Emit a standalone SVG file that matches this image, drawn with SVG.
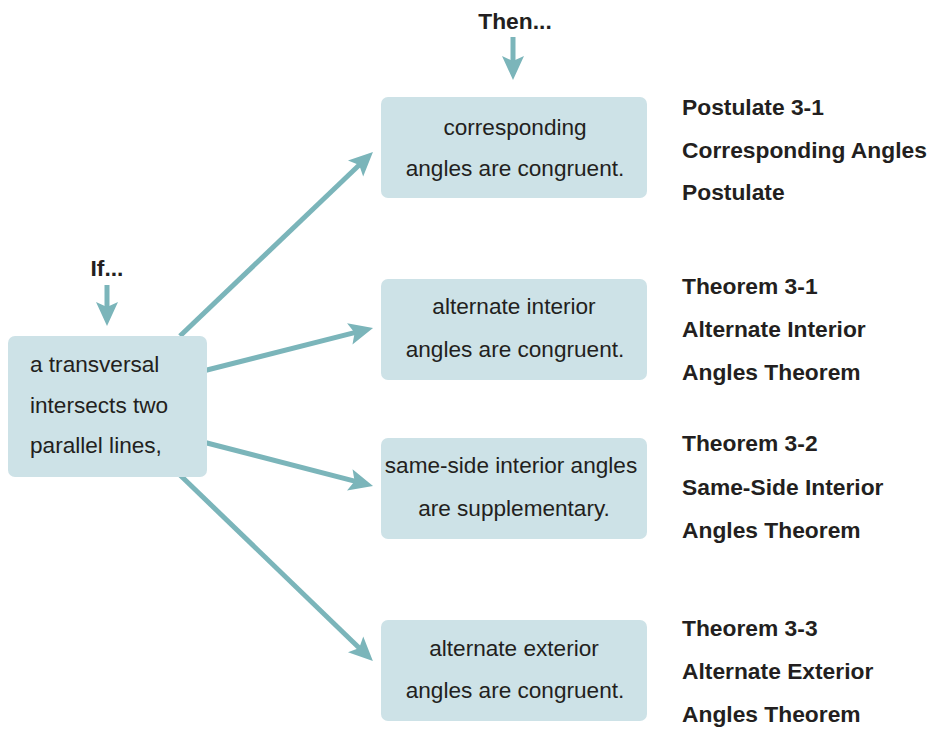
<svg xmlns="http://www.w3.org/2000/svg" width="930" height="729" viewBox="0 0 930 729">
<style>
.box{fill:#cde2e7;}
.t{font-family:"Liberation Sans",Arial,sans-serif;font-size:22.6px;fill:#231f20;}
.c{text-anchor:middle;}
.b{font-family:"Liberation Sans",Arial,sans-serif;font-size:22.8px;font-weight:bold;fill:#231f20;}
.conn{stroke:#7bb5ba;stroke-width:5;fill:none;marker-end:url(#ah);}
</style>
<defs>
<marker id="ah" markerUnits="userSpaceOnUse" viewBox="-10 -12 26 24" markerWidth="26" markerHeight="24" refX="0" refY="0" orient="auto">
<path d="M15,0 L-9,-11 L-4,0 L-9,11 Z" fill="#7bb5ba"/>
</marker>
</defs>
<rect width="930" height="729" fill="#ffffff"/>
<g id="connectors">
<line class="conn" x1="107" y1="285" x2="107" y2="311"/>
<line class="conn" x1="513" y1="37" x2="513" y2="65"/>
<line class="conn" x1="180" y1="336" x2="362.1" y2="162.3"/>
<line class="conn" x1="205" y1="370.5" x2="358.5" y2="331.7"/>
<line class="conn" x1="205" y1="442.5" x2="358.5" y2="482.2"/>
<line class="conn" x1="180" y1="475" x2="362.1" y2="650.7"/>
</g>
<g id="label-if"><text class="b" x="107" y="276" text-anchor="middle">If...</text></g>
<g id="label-then"><text class="b" x="515" y="29" text-anchor="middle">Then...</text></g>
<g id="node-if">
<rect class="box" x="8" y="336" width="199" height="141" rx="7"/>
<text class="t" x="30" y="372">a transversal</text>
<text class="t" x="30" y="413">intersects two</text>
<text class="t" x="30" y="453">parallel lines,</text>
</g>
<g id="node-corresponding">
<rect class="box" x="381" y="97" width="266" height="101" rx="7"/>
<text class="t c" x="515" y="135">corresponding</text>
<text class="t c" x="515" y="176">angles are congruent.</text>
</g>
<g id="node-alt-interior">
<rect class="box" x="381" y="279" width="266" height="101" rx="7"/>
<text class="t c" x="514" y="314">alternate interior</text>
<text class="t c" x="515" y="357">angles are congruent.</text>
</g>
<g id="node-same-side">
<rect class="box" x="381" y="438" width="266" height="101" rx="7"/>
<text class="t c" x="511" y="473">same-side interior angles</text>
<text class="t c" x="514" y="516">are supplementary.</text>
</g>
<g id="node-alt-exterior">
<rect class="box" x="381" y="620" width="266" height="101" rx="7"/>
<text class="t c" x="514" y="656">alternate exterior</text>
<text class="t c" x="515" y="698">angles are congruent.</text>
</g>
<g id="label-post31">
<text class="b" x="682" y="115">Postulate 3-1</text>
<text class="b" x="682" y="158">Corresponding Angles</text>
<text class="b" x="682" y="200">Postulate</text>
</g>
<g id="label-thm31">
<text class="b" x="682" y="294">Theorem 3-1</text>
<text class="b" x="682" y="337">Alternate Interior</text>
<text class="b" x="682" y="380">Angles Theorem</text>
</g>
<g id="label-thm32">
<text class="b" x="682" y="451">Theorem 3-2</text>
<text class="b" x="682" y="495">Same-Side Interior</text>
<text class="b" x="682" y="538">Angles Theorem</text>
</g>
<g id="label-thm33">
<text class="b" x="682" y="636">Theorem 3-3</text>
<text class="b" x="682" y="679">Alternate Exterior</text>
<text class="b" x="682" y="722">Angles Theorem</text>
</g>
</svg>
